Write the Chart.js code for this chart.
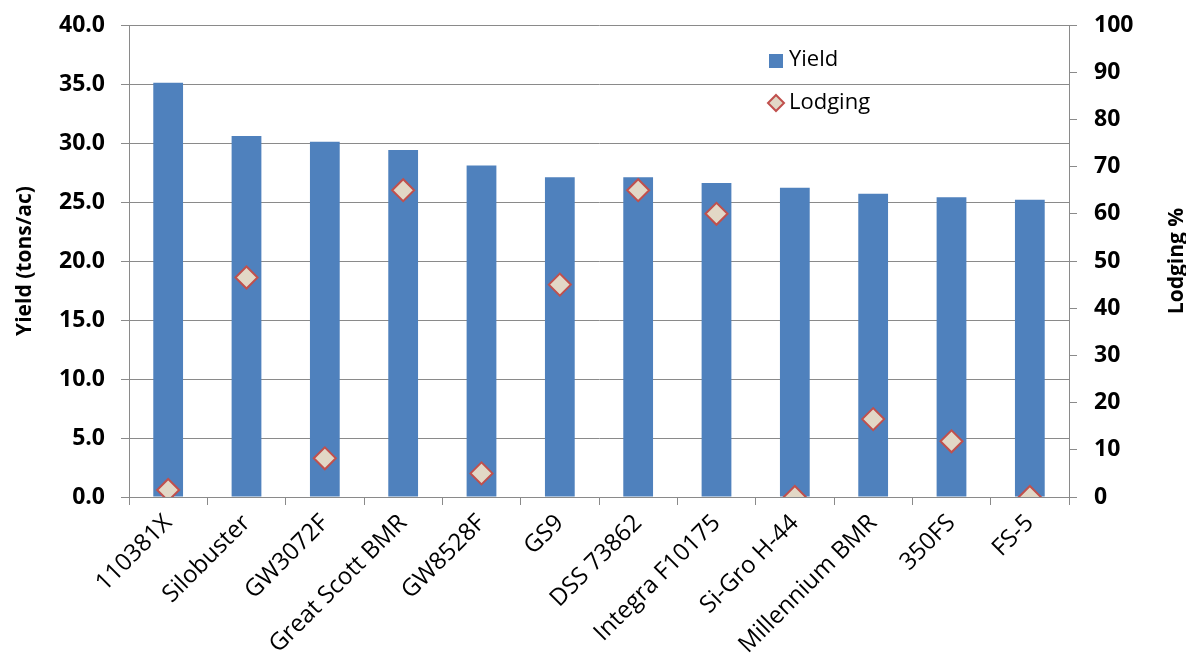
<!DOCTYPE html>
<html>
<head>
<meta charset="utf-8">
<script src="https://cdn.jsdelivr.net/npm/chart.js@4/dist/chart.umd.min.js"></script>
<style>
  html, body { margin: 0; padding: 0; background: #fff; }
  #wrap { width: 1186px; height: 668px; }
</style>
</head>
<body>
<div id="wrap"><canvas id="chart"></canvas></div>
<script>
const hybrids = ["110381X", "Silobuster", "GW3072F", "Great Scott BMR", "GW8528F", "GS9", "DSS 73862", "Integra F10175", "Si-Gro H-44", "Millennium BMR", "350FS", "FS-5"];
const yieldVals = [35.1, 30.6, 30.1, 29.4, 28.1, 27.1, 27.1, 26.6, 26.2, 25.7, 25.4, 25.2];
const lodgingVals = [1.5, 46.5, 8.2, 65, 5, 45, 65, 60, 0, 16.5, 11.8, 0];

const barColor = "#4F81BD";
const diamondFill = "#E2D8C6";
const diamondLine = "#C0504D";
const gridGray = "#8A8A8A";
const fontFam = "'Open Sans', sans-serif";

// legend and right title drawn by hand, like the Excel original
const extras = {
    id: "extras",
    afterDraw(chart) {
        let ctx = chart.ctx;
        ctx.save();
        ctx.font = "22px " + fontFam;
        ctx.textBaseline = "middle";
        ctx.fillStyle = barColor;
        ctx.fillRect(769, 54, 14, 14);
        ctx.fillStyle = "#000";
        ctx.fillText(chart.data.datasets[0].label, 789, 60);
        ctx.fillStyle = diamondFill;
        ctx.strokeStyle = diamondLine;
        ctx.lineWidth = 2;
        ctx.beginPath();
        ctx.moveTo(776, 95); ctx.lineTo(784, 103); ctx.lineTo(776, 111); ctx.lineTo(768, 103); ctx.closePath();
        ctx.fill(); ctx.stroke();
        ctx.fillStyle = "#000";
        ctx.fillText(chart.data.datasets[1].label, 789, 103);

        let a = chart.chartArea;
        ctx.translate(1177, (a.top + a.bottom) / 2);
        ctx.rotate(-Math.PI / 2);
        ctx.textAlign = "center";
        ctx.font = "bold 21px " + fontFam;
        ctx.fillText("Lodging %", 0, 0);
        ctx.restore();
    }
};

onload = () => {
    let ctx = document.getElementById("chart");
    new Chart(ctx, {
        data: {
            labels: hybrids,
            datasets: [{
                type: "bar",
                label: "Yield",
                data: yieldVals,
                backgroundColor: barColor,
                yAxisID: "y",
                barPercentage: 0.38,
                categoryPercentage: 1,
                order: 2
            }, {
                type: "line",
                label: "Lodging",
                data: lodgingVals,
                showLine: false,
                pointStyle: "rectRot",
                pointRadius: 11,
                pointBackgroundColor: diamondFill,
                pointBorderColor: diamondLine,
                pointBorderWidth: 2,
                yAxisID: "y1",
                order: 1
            }]
        },
        options: {
            responsive: true,
            maintainAspectRatio: false,
            animation: false,
            layout: { padding: { top: 0, left: 0, right: 0, bottom: 0 } },
            plugins: {
                legend: { display: false },
                tooltip: { enabled: false }
            },
            scales: {
                x: {
                    offset: true,
                    afterFit: (s) => { s.height = 171; },
                    grid: { offset: true, drawOnChartArea: false, tickLength: 8, color: gridGray },
                    border: { color: gridGray },
                    ticks: {
                        color: "#000",
                        font: { family: fontFam, size: 24 },
                        minRotation: 45,
                        maxRotation: 45,
                        padding: 4,
                        autoSkip: false
                    }
                },
                y: {
                    position: "left",
                    min: 0,
                    max: 40,
                    afterFit: (s) => { s.width = 129; s.paddingTop = 25; },
                    grid: { color: gridGray, tickLength: 8 },
                    border: { color: gridGray },
                    ticks: {
                        stepSize: 5,
                        color: "#000",
                        padding: 16,
                        font: { family: fontFam, size: 23, weight: "bold" },
                        callback: (v) => v.toFixed(1)
                    },
                    title: {
                        display: true,
                        text: "Yield (tons/ac)",
                        color: "#000",
                        padding: { top: 12, bottom: 0 },
                        font: { family: fontFam, size: 21, weight: "bold" }
                    }
                },
                y1: {
                    position: "right",
                    min: 0,
                    max: 100,
                    afterFit: (s) => { s.width = 117; s.paddingTop = 25; },
                    grid: { drawOnChartArea: false, color: gridGray, tickLength: 8 },
                    border: { color: gridGray },
                    ticks: {
                        stepSize: 10,
                        color: "#000",
                        padding: 17,
                        font: { family: fontFam, size: 23, weight: "bold" }
                    }
                }
            }
        },
        plugins: [extras]
    });
};
</script>
</body>
</html>
